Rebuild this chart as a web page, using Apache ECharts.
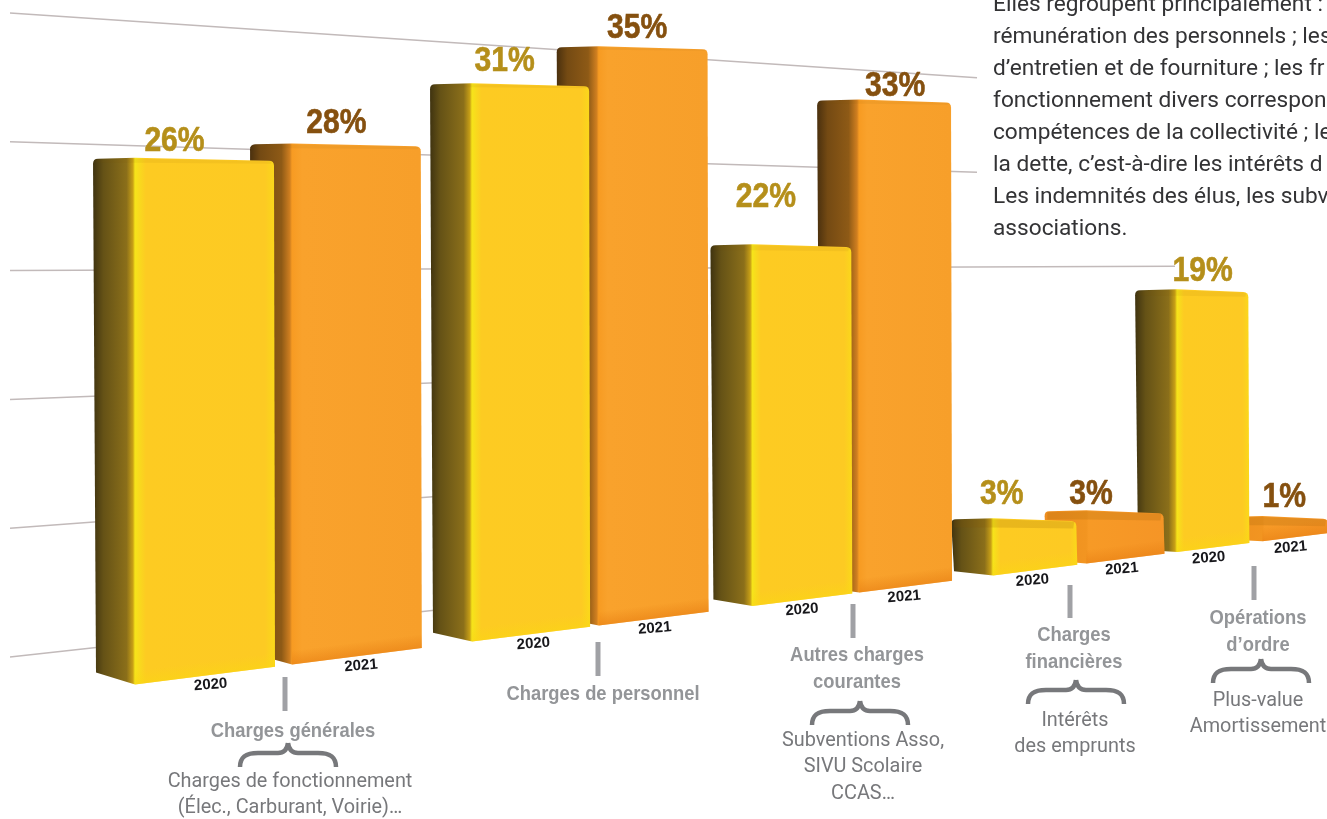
<!DOCTYPE html>
<html><head><meta charset="utf-8">
<style>html,body{margin:0;padding:0;background:#fff;overflow:hidden}#c{width:1327px;height:819px}</style>
<script src="https://cdn.jsdelivr.net/npm/echarts@6/dist/echarts.min.js"></script>
</head><body><div id="c"></div>
<script>
// ---- data
const categories = ['Charges générales','Charges de personnel','Autres charges courantes','Charges financières','Opérations d’ordre'];
const years = ['2020','2021'];
const values2020 = [26,31,22,3,19];
const values2021 = [28,35,33,3,1];
const gridTicks = [0,8,16,24,32,40];
const bodyLines = ['Elles regroupent principalement :','rémunération des personnels ; les','d’entretien et de fourniture ; les fr','fonctionnement divers correspond','compétences de la collectivité ; le','la dette, c’est-à-dire les intérêts d','Les indemnités des élus, les subv','associations.'];

// ---- layout of the picture's perspective (a flat chart, warped)
const FLAT_UNIT = 337, FLAT_LEFT = 93, GRID_W = 2400, GRID_H = 800, AXIS_MAX = 40;
const warpX = px => {
  const t = (px - FLAT_LEFT) / FLAT_UNIT;
  return px - 0.0002245 * (px - 93) * (px - 430) - 1.4 * t * (t - 1) * (t - 3) * (t - 4);
};
const pairOffset = x => 157 - 0.1 * (x - 93) + 0.00003 * (x - 93) * (x - 93);
const floorY = x => 667 - 0.127 * (x - 272);
const perPct = (x, yr) => (yr ? 18.9 : 19.5) - 0.0064 * (x - 200);
const toPct = py => (GRID_H - py) / (GRID_H / AXIS_MAX);
const GRID_ENDS = [500, 500, 500, 1175, 977, 977];
const LABEL_NUDGE = [[[-9,2],[1,-1]],[[-5,-3],[5,1]],[[-15,-28],[11,6]],[[-12,-5],[-13,3]],[[11,1],[10,0]]];
const YELLOW = ['#b58f1a'], BROWN = ['#85500f'];

function roundedTop(p, r) {
  const out = [];
  const corner = (a, b, c) => {
    const d1 = Math.hypot(a[0]-b[0], a[1]-b[1]), d2 = Math.hypot(c[0]-b[0], c[1]-b[1]);
    const p1 = [b[0]+(a[0]-b[0])*r/d1, b[1]+(a[1]-b[1])*r/d1], p2 = [b[0]+(c[0]-b[0])*r/d2, b[1]+(c[1]-b[1])*r/d2];
    for (let t = 0; t <= 1.001; t += 0.25) {
      const q = 1 - t;
      out.push([q*q*p1[0]+2*q*t*b[0]+t*t*p2[0], q*q*p1[1]+2*q*t*b[1]+t*t*p2[1]]);
    }
  };
  corner(p[5], p[0], p[1]); out.push(p[1]); corner(p[1], p[2], p[3]); out.push(p[3], p[4], p[5]);
  return out;
}
function stops(yr, f, low) {
  const c = (offset, color) => ({offset, color});
  if (yr === 0) return [c(0,'#3f3310'),c(f*.25,'#655216'),c(f*.8,'#8b6f1a'),c(f*.95,'#c9a016'),c(f,'#f6e41a'),c(f+.06,'#fdcb22'),c(.95,'#fdca23'),c(1,'#fbd71b')];
  if (low) return [c(0,'#ee8e20'),c(f,'#f29521'),c(f+.02,'#f79a26'),c(1,'#f59526')];
  return [c(0,'#4a300e'),c(f*.25,'#744a13'),c(f*.75,'#8e5a16'),c(f*.95,'#d07f20'),c(f,'#f79b22'),c(f+.06,'#f9a22c'),c(1,'#f79f2a')];
}
function renderBar(yr) {
  return function (params, api) {
    const g = api.value(0), v = api.value(1);
    const flat = api.coord([g, v]);
    const xl0 = warpX(flat[0]);
    const L = yr ? xl0 + pairOffset(xl0) : xl0;
    const W = 181 - 0.065 * (L - 93);
    const R = L + W, xf = L + 42, ref = L + 0.55 * W;
    const T = floorY(ref) - 10 - toPct(flat[1]) * perPct(ref, yr);
    const drop = 12 - 0.009 * (L - 93);
    const base = 200 - 4 * g - 2 * yr;
    const low = v < 5;
    const grad = {type:'linear', global:true, x:L, y:0, x2:R, y2:0, colorStops:stops(yr, 42 / W, low)};
    const outline = roundedTop([[L,T],[xf,T-1],[R,T+2],[R+1,floorY(R)],[xf,floorY(xf)],[L+3,floorY(xf)-drop]], 5);
    const band = 2 + T * 0.012;
    const edge = yr ? 'rgba(232,128,20,' : 'rgba(250,214,20,';
    const edgeTop = floorY(xf) - 14;
    const kids = [
      {type:'polygon', z2:base, shape:{points:outline}, style:{fill:grad}},
      {type:'polygon', z2:base+.1, shape:{points:[[L+3,T+1],[xf,T],[R-2,T+2.5],[R-3,T+band+1],[xf,T+band],[L+3,T+band]]}, style:{fill:T < 300 ? 'rgba(130,80,0,0.07)' : 'rgba(130,80,0,0.16)'}},
      {type:'polygon', z2:base+.2, shape:{points:[[xf,edgeTop],[R+1,floorY(R)-14],[R+1,floorY(R)],[xf,floorY(xf)]]},
        style:{fill:{type:'linear',global:true,x:xf,y:edgeTop,x2:xf+1.75,y2:edgeTop+13.8,colorStops:[{offset:0,color:edge+'0)'},{offset:1,color:edge+'0.6)'}]}}},
      {type:'text', z2:1000, x:L + 0.5 * W + LABEL_NUDGE[g][yr][0], y:T - 20 + LABEL_NUDGE[g][yr][1], scaleX:.86,
        style:{text:v + '%', fill:yr ? BROWN[0] : YELLOW[0], stroke:yr ? BROWN[0] : YELLOW[0], lineWidth:.6, font:'bold 35px "Liberation Sans"', textAlign:'center', textVerticalAlign:'middle'}},
      {type:'text', z2:1000, x:L + 0.65 * W, y:floorY(L + 0.65 * W) + 10, rotation:0.08,
        style:{text:years[yr], fill:'#17171b', font:'bold 15px "Liberation Sans"', textAlign:'center', textVerticalAlign:'middle'}}
    ];
    return {type:'group', children:kids};
  };
}
function renderGrid(params, api) {
  const i = params.dataIndex;
  const tick = api.value(0);
  const k = tick / 8;
  const pt = x => {
    const bottom = 657 - 0.11 * (x - 10), top = 13 + 0.067 * (x - 10);
    return [x, bottom - k * (bottom - top) / 5];
  };
  const start = api.coord([(10 - FLAT_LEFT) / FLAT_UNIT, tick])[0];
  return {type:'line', shape:{x1:pt(start)[0], y1:pt(start)[1], x2:pt(GRID_ENDS[i])[0], y2:pt(GRID_ENDS[i])[1]},
    style:{stroke:'#c2baba', lineWidth:1.5}};
}

// ---- annotations
const GREY_HEAD = '#939598', GREY_SUB = '#77787b';
const head = (t, x, y) => ({type:'text', x, y, scaleX:.875, z:50, style:{text:t, fill:GREY_HEAD, font:'bold 21px "Liberation Sans"', textAlign:'center', textVerticalAlign:'middle'}});
const sub = (t, x, y) => ({type:'text', x, y, scaleX:.945, z:50, style:{text:t, fill:GREY_SUB, font:'21px Roboto', textAlign:'center', textVerticalAlign:'middle'}});
const stem = (x, y1, y2) => ({type:'line', z:50, shape:{x1:x, y1, x2:x, y2}, style:{stroke:'#a0a1a5', lineWidth:5}});
const braceStyle = {fill:null, stroke:GREY_SUB, lineWidth:4.5};
const bez = (x1,y1,cpx1,cpy1,cpx2,cpy2,x2,y2) => ({type:'bezierCurve', z:50, shape:{x1,y1,cpx1,cpy1,cpx2,cpy2,x2,y2}, style:braceStyle});
const brace = (x, y) => ({type:'group', x, y, children:[
  bez(-48,25,-48,14,-41,11,-30,11), {type:'line', z:50, shape:{x1:-30,y1:11,x2:-10,y2:11}, style:braceStyle}, bez(-10,11,-4,11,-1,8,0,1),
  bez(48,25,48,14,41,11,30,11), {type:'line', z:50, shape:{x1:30,y1:11,x2:10,y2:11}, style:braceStyle}, bez(10,11,4,11,1,8,0,1)
]});
const graphics = [
  stem(285,677,711), stem(598,642,676), stem(853,604,638), stem(1070,585,618), stem(1254,566,600),
  head('Charges générales',293,731), head('Charges de personnel',603,694),
  head('Autres charges',857,655), head('courantes',857,682),
  head('Charges',1074,635), head('financières',1074,662),
  head('Opérations',1258,618), head('d’ordre',1258,645),
  brace(288,742), brace(860,700), brace(1076,679), brace(1261,658),
  sub('Charges de fonctionnement',290,782), sub('(Élec., Carburant, Voirie)…',290,808),
  sub('Subventions Asso,',863,741), sub('SIVU Scolaire',863,767), sub('CCAS…',863,794),
  sub('Intérêts',1075,721), sub('des emprunts',1075,747),
  sub('Plus-value',1258,701), sub('Amortissement',1258,727)
];
bodyLines.forEach((t, i) => graphics.push({type:'text', x:993, y:5 + i * 32, z:50, scaleX:1.03,
  style:{text:t, fill:'#333335', font:'22px Roboto', textAlign:'left', textVerticalAlign:'middle'}}));

const chart = echarts.init(document.getElementById('c'), null, {renderer:'canvas'});
chart.setOption({
  animation:false, backgroundColor:'#fff',
  grid:{left:0, top:0, width:GRID_W, height:GRID_H, outerBoundsMode:'none'},
  xAxis:{type:'value', show:false, min:-FLAT_LEFT / FLAT_UNIT, max:(GRID_W - FLAT_LEFT) / FLAT_UNIT},
  yAxis:{type:'value', show:false, min:0, max:AXIS_MAX},
  graphic:{elements:graphics},
  series:[
    {type:'custom', name:'grille', silent:true, clip:false, z:1, renderItem:renderGrid, data:gridTicks.map(t => [t]), encode:{y:0}},
    {type:'custom', name:years[0], silent:true, clip:false, z:2, renderItem:renderBar(0), data:values2020.map((v, i) => [i, v]), encode:{x:0, y:1}},
    {type:'custom', name:years[1], silent:true, clip:false, z:2, renderItem:renderBar(1), data:values2021.map((v, i) => [i, v]), encode:{x:0, y:1}}
  ]
});
</script></body></html>
